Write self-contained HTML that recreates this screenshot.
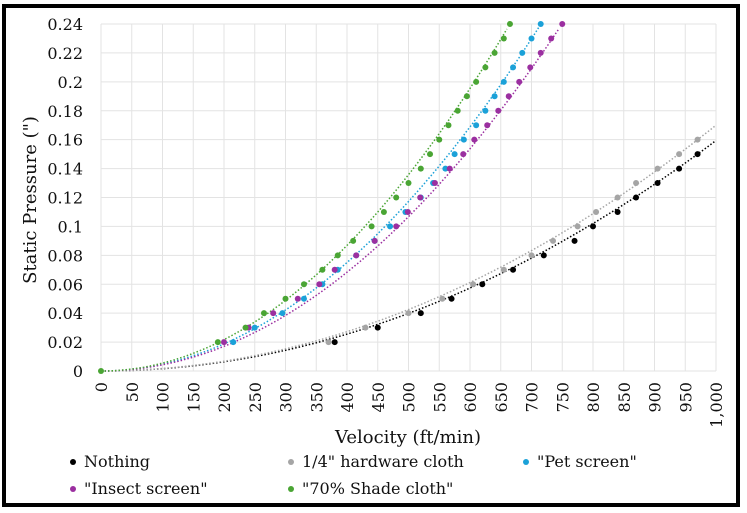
<!DOCTYPE html>
<html><head><meta charset="utf-8"><style>
html,body{margin:0;padding:0;background:#fff;}
svg{display:block;font-family:"DejaVu Serif","Liberation Serif",serif;}
</style></head><body>
<svg id="s" width="747" height="513" xmlns="http://www.w3.org/2000/svg">
<rect x="0" y="0" width="747" height="513" fill="#fff"/>
<rect x="4" y="6" width="734" height="499" fill="none" stroke="#000" stroke-width="4"/>
<g id="grid"></g>
<g id="lbl" font-size="16" fill="#111"></g>
<text x="0" y="0" font-size="18" fill="#111" text-anchor="middle" transform="translate(36,200) rotate(-90)">Static Pressure (")</text>
<text x="408" y="443" font-size="18" fill="#111" text-anchor="middle">Velocity (ft/min)</text>
<g font-size="16" fill="#111">
<circle cx="73" cy="462" r="3" fill="#000"/><text x="84" y="467">Nothing</text>
<circle cx="291" cy="462" r="3" fill="#a5a5a5"/><text x="302" y="467">1/4" hardware cloth</text>
<circle cx="526" cy="462" r="3" fill="#1ba1d8"/><text x="537" y="467">"Pet screen"</text>
<circle cx="73" cy="489" r="3" fill="#9b2fa0"/><text x="84" y="494">"Insect screen"</text>
<circle cx="291" cy="489" r="3" fill="#4aa534"/><text x="302" y="494">"70% Shade cloth"</text>
</g>
<g id="series"></g>
</svg>
<script>
var NS="http://www.w3.org/2000/svg";
function X(v){return 101+v*0.615;}
function Y(p){return 371-p*1445.8;}
function el(t,a,p){var e=document.createElementNS(NS,t);for(var k in a)e.setAttribute(k,a[k]);if(p)p.appendChild(e);return e;}
var g=document.getElementById('grid'),l=document.getElementById('lbl'),s=document.getElementById('series');
for(var v=0;v<=1000;v+=50){el('line',{x1:X(v),x2:X(v),y1:Y(0.24),y2:Y(0),stroke:'#e3e3e3','stroke-width':1},g);
 var t=el('text',{'text-anchor':'end',transform:'translate('+(X(v)+6)+',382) rotate(-90)'},l);t.textContent=v==1000?'1,000':v;}
for(var i=0;i<=12;i++){var p=i*0.02;el('line',{x1:X(0),x2:X(1000),y1:Y(p),y2:Y(p),stroke:'#e3e3e3','stroke-width':1},g);
 var t=el('text',{'text-anchor':'end',x:83,y:Y(p)+6},l);t.textContent=i==0?'0':(+p.toFixed(2)).toString();}
var S=[
 {c:'#000',a:1.594e-7,pts:[[380,.02],[450,.03],[520,.04],[570,.05],[620,.06],[670,.07],[720,.08],[770,.09],[800,.1],[840,.11],[870,.12],[905,.13],[940,.14],[970,.15]]},
 {c:'#a5a5a5',a:1.70e-7,pts:[[370,.02],[430,.03],[500,.04],[555,.05],[605,.06],[655,.07],[700,.08],[735,.09],[775,.1],[805,.11],[840,.12],[870,.13],[905,.14],[940,.15],[970,.16]]},
 {c:'#1ba1d8',a:4.69e-7,pts:[[215,.02],[250,.03],[295,.04],[330,.05],[360,.06],[385,.07],[415,.08],[445,.09],[470,.1],[495,.11],[520,.12],[540,.13],[560,.14],[575,.15],[590,.16],[610,.17],[625,.18],[640,.19],[655,.2],[670,.21],[685,.22],[700,.23],[715,.24]]},
 {c:'#9b2fa0',a:4.27e-7,pts:[[200,.02],[240,.03],[280,.04],[320,.05],[355,.06],[380,.07],[415,.08],[445,.09],[480,.1],[499,.11],[519,.12],[543,.13],[567,.14],[589,.15],[607,.16],[628,.17],[646,.18],[663,.19],[680,.2],[698,.21],[715,.22],[732,.23],[750,.24]]},
 {c:'#4aa534',a:5.43e-7,pts:[[0,0],[190,.02],[235,.03],[265,.04],[300,.05],[330,.06],[360,.07],[385,.08],[410,.09],[440,.1],[460,.11],[480,.12],[500,.13],[520,.14],[535,.15],[550,.16],[565,.17],[580,.18],[595,.19],[610,.2],[625,.21],[640,.22],[655,.23],[665,.24]]}
];
S.forEach(function(o){var d='';for(var v=0;v<=1000;v+=5){var p=o.a*v*v;if(p>0.24)break;d+=(d?'L':'M')+X(v).toFixed(1)+','+Y(p).toFixed(1);}
 el('path',{d:d,fill:'none',stroke:o.c,'stroke-width':1.5,'stroke-dasharray':'1.5,2'},s);});
S.forEach(function(o){o.pts.forEach(function(q){el('circle',{cx:X(q[0]),cy:Y(q[1]),r:3,fill:o.c},s);});});
</script>
</body></html>
